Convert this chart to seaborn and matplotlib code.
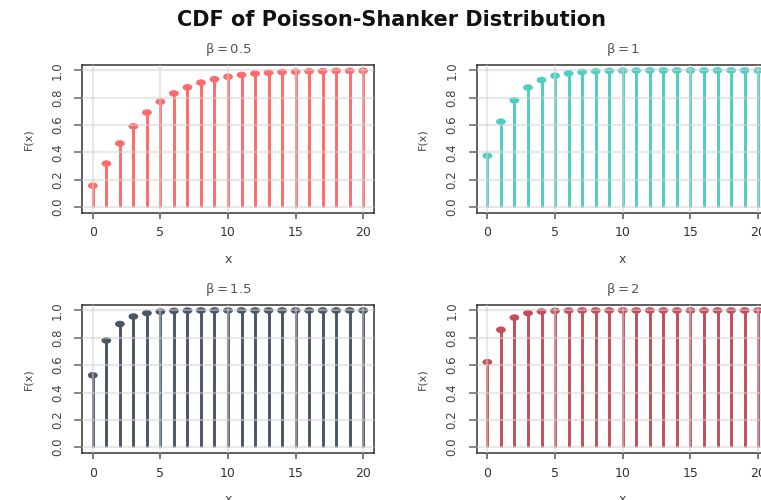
import numpy as np
import pandas as pd
import matplotlib
matplotlib.use("Agg")
import matplotlib.pyplot as plt
from matplotlib.path import Path
from matplotlib.transforms import Affine2D
import seaborn as sns

# ---- data ----
x_vals = list(range(21))
betas = ["0.5", "1", "1.5", "2"]
cdf_b05 = [0.156, 0.318, 0.466, 0.591, 0.692, 0.771, 0.832, 0.877, 0.911, 0.936,
           0.954, 0.967, 0.977, 0.983, 0.988, 0.991, 0.994, 0.995, 0.997, 0.997, 0.998]
cdf_b1 = [0.375, 0.625, 0.781, 0.875, 0.930, 0.961, 0.979, 0.989, 0.994, 0.997,
          0.998, 0.999, 1.0, 1.0, 1.0, 1.0, 1.0, 1.0, 1.0, 1.0, 1.0]
cdf_b15 = [0.526, 0.781, 0.901, 0.956, 0.981, 0.992, 0.997, 0.999, 1.0, 1.0,
           1.0, 1.0, 1.0, 1.0, 1.0, 1.0, 1.0, 1.0, 1.0, 1.0, 1.0]
cdf_b2 = [0.622, 0.859, 0.948, 0.981, 0.993, 0.997, 0.999, 1.0, 1.0, 1.0,
          1.0, 1.0, 1.0, 1.0, 1.0, 1.0, 1.0, 1.0, 1.0, 1.0, 1.0]
series = [cdf_b05, cdf_b1, cdf_b15, cdf_b2]
colors = ["#FF6B6B", "#4ECDC4", "#4A5568", "#C44D58"]
x_ticks = [0, 5, 10, 15, 20]
y_ticks = [0.0, 0.2, 0.4, 0.6, 0.8, 1.0]
y_ticklabels = ["0.0", "0.2", "0.4", "0.6", "0.8", "1.0"]

sns.set_theme(style="white")
plt.rcParams["font.family"] = ["DejaVu Sans"]

W, H = 761, 500
fig = plt.figure(figsize=(W / 100, H / 100), dpi=100)

# panel boxes in pixels: (left, top, right, bottom)
boxes = [(82, 65, 374, 212.5), (476.5, 65, 769, 212.5),
         (82, 305, 374, 452.7), (476.5, 305, 769, 452.7)]

ellipse = Path.unit_circle().transformed(Affine2D().scale(1.5, 1.0))

for i, (vals, col, b) in enumerate(zip(series, colors, betas)):
    l, t, r, btm = boxes[i]
    ax = fig.add_axes([l / W, 1 - btm / H, (r - l) / W, (btm - t) / H])
    df = pd.DataFrame({"x": x_vals, "F": vals})
    ax.vlines(df["x"], 0, df["F"], colors=col, lw=2.1, zorder=2)
    sns.scatterplot(data=df, x="x", y="F", color=col, marker=ellipse, s=50,
                    edgecolor="none", linewidth=0, ax=ax, zorder=2.2)
    ax.set_xlim(-0.8, 20.8)
    ax.set_ylim(-0.04, 1.04)
    ax.set_xticks(x_ticks)
    ax.set_xticklabels([str(v) for v in x_ticks])
    ax.set_yticks(y_ticks)
    ax.set_yticklabels(y_ticklabels)
    ax.grid(True, color="#d2d2d2", alpha=0.5, lw=1.6)
    ax.set_axisbelow(False)
    for sp in ax.spines.values():
        sp.set_color("#333333")
        sp.set_linewidth(1.1)
    ax.tick_params(axis="x", direction="out", length=4, width=1.1, color="#555555",
                   labelsize=9, labelcolor="#333333", pad=6, bottom=True)
    ax.tick_params(axis="y", direction="out", length=6, width=1.1, color="#666666",
                   labelsize=8.5, labelcolor="#444444", pad=7, left=True,
                   labelrotation=90)
    for lab in ax.get_yticklabels():
        lab.set_va("center")
    ax.set_xlabel("x", fontsize=9, color="#444444", labelpad=10)
    ax.set_ylabel("F(x)", fontsize=8, color="#444444", labelpad=13)
    ax.set_title(r"$\mathregular{\beta = " + b + "}$", fontsize=9.5, color="#555555", pad=9)

fig.text(0.515, 1 - 20 / H, "CDF of Poisson-Shanker Distribution", ha="center",
         va="center", fontsize=15, fontweight="bold", color="#111111")

fig.savefig("out.png", dpi=100)
